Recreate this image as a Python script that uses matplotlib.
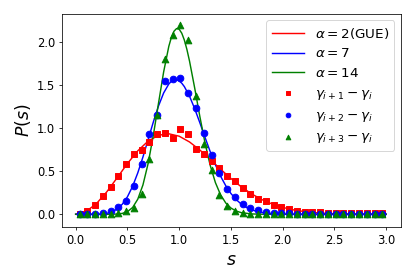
import numpy as np
import matplotlib
matplotlib.use('Agg')
import matplotlib.pyplot as plt

# histogram bin centres for the spacing data
s_bins = [0.0375, 0.1125, 0.1875, 0.2625, 0.3375, 0.4125, 0.4875, 0.5625, 0.6375, 0.7125,
          0.7875, 0.8625, 0.9375, 1.0125, 1.0875, 1.1625, 1.2375, 1.3125, 1.3875, 1.4625,
          1.5375, 1.6125, 1.6875, 1.7625, 1.8375, 1.9125, 1.9875, 2.0625, 2.1375, 2.2125,
          2.2875, 2.3625, 2.4375, 2.5125, 2.5875, 2.6625, 2.7375, 2.8125, 2.8875, 2.9625]

# gamma_{i+1} - gamma_i
p_gap1 = [0.00, 0.04, 0.11, 0.21, 0.32, 0.45, 0.58, 0.70, 0.75, 0.84,
          0.93, 0.94, 0.89, 0.99, 0.93, 0.76, 0.70, 0.62, 0.54, 0.44,
          0.39, 0.30, 0.235, 0.18, 0.16, 0.11, 0.08, 0.058, 0.042, 0.032,
          0.03, 0.025, 0.02, 0.018, 0.015, 0.012, 0.01, 0.01, 0.01, 0.01]
# gamma_{i+2} - gamma_i
p_gap2 = [0.00, 0.00, 0.005, 0.01, 0.04, 0.08, 0.15, 0.33, 0.59, 0.93,
          1.16, 1.55, 1.57, 1.58, 1.41, 1.24, 0.94, 0.69, 0.48, 0.29,
          0.20, 0.12, 0.07, 0.045, 0.03, 0.015, 0.012, 0.01, 0.005, 0.005,
          0.0, 0.0, 0.0, 0.0, 0.0, 0.0, 0.0, 0.0, 0.0, 0.0]
# gamma_{i+3} - gamma_i
p_gap3 = [0.00, 0.00, 0.00, 0.00, 0.00, 0.01, 0.04, 0.07, 0.24, 0.64,
          1.15, 1.81, 2.08, 2.20, 2.03, 1.38, 0.82, 0.51, 0.22, 0.10,
          0.04, 0.01, 0.005, 0.0, 0.0, 0.0, 0.0, 0.0, 0.0, 0.0,
          0.0, 0.0, 0.0, 0.0, 0.0, 0.0, 0.0, 0.0, 0.0, 0.0]

# theory curves
s_gue = [0.0, 0.1, 0.2, 0.3, 0.4, 0.5, 0.6, 0.7, 0.8, 0.9, 1.0, 1.1, 1.2, 1.3, 1.4, 1.5,
         1.6, 1.7, 1.8, 1.9, 2.0, 2.1, 2.2, 2.3, 2.4, 2.5, 2.6, 2.7, 2.8, 2.9, 3.0]
p_gue = [0.0, 0.032, 0.123, 0.260, 0.423, 0.590, 0.738, 0.851, 0.919, 0.936, 0.908,
         0.841, 0.747, 0.637, 0.524, 0.416, 0.319, 0.237, 0.170, 0.118, 0.080, 0.052,
         0.033, 0.020, 0.012, 0.007, 0.004, 0.002, 0.001, 0.0006, 0.0003]

s_a7 = [0.0, 0.1, 0.2, 0.25, 0.3, 0.35, 0.4, 0.45, 0.5, 0.55, 0.6, 0.65, 0.7, 0.75, 0.8,
        0.85, 0.9, 0.925, 0.95, 0.975, 1.0, 1.025, 1.05, 1.1, 1.15, 1.2, 1.25, 1.3, 1.35,
        1.4, 1.45, 1.5, 1.55, 1.6, 1.65, 1.7, 1.75, 1.8, 1.9, 2.0, 2.2, 2.5, 3.0]
p_a7 = [0.0, 0.0, 0.0007, 0.0032, 0.0104, 0.027, 0.0597, 0.1161, 0.203, 0.3248, 0.4812,
        0.6662, 0.8685, 1.0719, 1.2586, 1.411, 1.5153, 1.5464, 1.5626, 1.5642, 1.5511,
        1.5244, 1.4848, 1.373, 1.2279, 1.0636, 0.8932, 0.7278, 0.5762, 0.4433, 0.3317,
        0.2416, 0.1713, 0.1184, 0.0798, 0.0524, 0.0335, 0.021, 0.0076, 0.0025, 0.0002,
        0.0, 0.0]

s_a14 = [0.0, 0.2, 0.3, 0.35, 0.4, 0.45, 0.5, 0.55, 0.6, 0.65, 0.7, 0.75, 0.8, 0.85, 0.9,
         0.925, 0.95, 0.975, 1.0, 1.025, 1.05, 1.075, 1.1, 1.15, 1.2, 1.25, 1.3, 1.35, 1.4,
         1.45, 1.5, 1.55, 1.6, 1.7, 1.8, 2.0, 3.0]
p_a14 = [0.0, 0.0, 0.0001, 0.0005, 0.0026, 0.0098, 0.0303, 0.0786, 0.1751, 0.3413, 0.5902,
         0.9165, 1.2892, 1.6558, 1.9538, 2.059, 2.1289, 2.160, 2.1521, 2.106, 2.0258, 1.9155,
         1.7814, 1.4676, 1.1355, 0.827, 0.5678, 0.3683, 0.2261, 0.1314, 0.0725, 0.0379,
         0.0189, 0.004, 0.0007, 0.0, 0.0]

x_ticks = [0.0, 0.5, 1.0, 1.5, 2.0, 2.5, 3.0]
y_ticks = [0.0, 0.5, 1.0, 1.5, 2.0]

DPI = 69.17
fig = plt.figure(figsize=(415 / DPI, 277 / DPI), dpi=DPI)
ax = fig.add_subplot(111)
fig.subplots_adjust(left=62 / 415, right=401 / 415, bottom=1 - 227 / 277, top=1 - 13.5 / 277)

ax.plot(s_gue, p_gue, color='r', lw=1.5, label=r'$\alpha=2$(GUE)')
ax.plot(s_a7, p_a7, color='b', lw=1.5, label=r'$\alpha=7$')
ax.plot(s_a14, p_a14, color='g', lw=1.5, label=r'$\alpha=14$')

ax.scatter(s_bins, p_gap1, marker='s', color='r', s=48, zorder=3, label=r'$\gamma_{i+1}-\gamma_i$')
ax.scatter(s_bins, p_gap2, marker='o', color='b', s=48, zorder=3, label=r'$\gamma_{i+2}-\gamma_i$')
ax.scatter(s_bins, p_gap3, marker='^', color='g', s=48, zorder=3, label=r'$\gamma_{i+3}-\gamma_i$')

ax.set_xlim(-0.132, 3.143)
ax.set_ylim(-0.148, 2.335)
ax.set_xticks(x_ticks)
ax.set_yticks(y_ticks)
ax.tick_params(labelsize=12)
ax.set_xlabel(r'$s$', fontsize=18)
ax.set_ylabel(r'$P(s)$', fontsize=18)
ax.legend(loc='upper right', fontsize=14, markerscale=0.7, handlelength=2.4)

fig.savefig('out.png', dpi=DPI)
